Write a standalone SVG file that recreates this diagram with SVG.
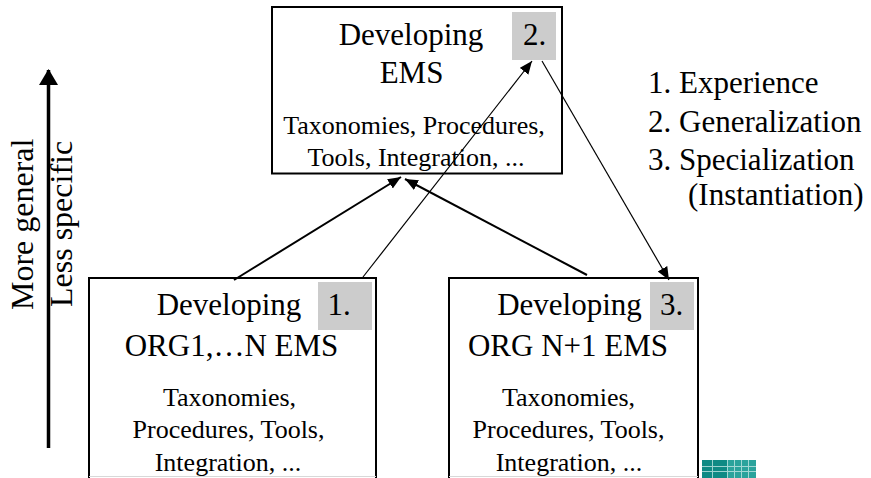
<svg xmlns="http://www.w3.org/2000/svg" width="871" height="478" viewBox="0 0 871 478">
  <style>
    text { font-family: "Liberation Serif", "Times New Roman", serif; fill: #000; }
    .head { font-size: 31px; text-anchor: middle; }
    .sub { font-size: 26px; text-anchor: middle; }
    .num { font-size: 31px; text-anchor: middle; }
    .legend { font-size: 31px; }
    .side { font-size: 32px; }
    .box { fill: #fff; stroke: #000; stroke-width: 2; }
    .tag { fill: #cccccc; stroke: none; }
    .thick { stroke: #000; stroke-width: 2; fill: none; }
    .thin { stroke: #000; stroke-width: 1.2; fill: none; }
  </style>
  <defs>
    <marker id="ah" markerUnits="userSpaceOnUse" markerWidth="14" markerHeight="12" refX="13" refY="5.5" orient="auto">
      <path d="M0,0 L13,5.5 L0,11 z" fill="#000"/>
    </marker>
    <marker id="ahBig" markerUnits="userSpaceOnUse" markerWidth="20" markerHeight="20" refX="15" refY="9.5" orient="auto">
      <path d="M0,0 L16,9.5 L0,19 z" fill="#000"/>
    </marker>
  </defs>
  <rect width="871" height="478" fill="#fff"/>

  <g id="axis">
    <line x1="48.5" y1="448" x2="48.5" y2="70" stroke="#000" stroke-width="3.5" marker-end="url(#ahBig)"/>
    <text class="side" transform="translate(33,310) rotate(-90)">More general</text>
    <text class="side" transform="translate(72,307) rotate(-90)">Less specific</text>
  </g>

  <g id="node-ems">
    <rect class="box" x="272" y="7" width="290" height="166.5"/>
    <rect class="tag" x="512" y="12" width="44" height="48"/>
    <text class="num" x="534.5" y="45">2.</text>
    <text class="head" x="411" y="45">Developing</text>
    <text class="head" x="411.5" y="83">EMS</text>
    <text class="sub" x="414" y="134">Taxonomies, Procedures,</text>
    <text class="sub" x="416" y="166">Tools, Integration, ...</text>
  </g>

  <g id="node-org1n">
    <rect class="box" x="89" y="278" width="287" height="215"/>
    <line x1="89" y1="476.5" x2="376" y2="476.5" stroke="#d8d8d8" stroke-width="1"/>
    <rect class="tag" x="318" y="282" width="54" height="48"/>
    <text class="num" x="339" y="315">1.</text>
    <text class="head" x="229" y="315">Developing</text>
    <text class="head" x="231.5" y="356">ORG1,…N EMS</text>
    <text class="sub" x="229.5" y="406">Taxonomies,</text>
    <text class="sub" x="228.5" y="438">Procedures, Tools,</text>
    <text class="sub" x="228" y="471">Integration, ...</text>
  </g>

  <g id="node-orgn1">
    <rect class="box" x="449" y="278" width="249" height="215"/>
    <line x1="449" y1="476.5" x2="698" y2="476.5" stroke="#d8d8d8" stroke-width="1"/>
    <rect class="tag" x="650" y="282" width="44" height="48"/>
    <text class="num" x="671.5" y="315">3.</text>
    <text class="head" x="569.5" y="315">Developing</text>
    <text class="head" x="568" y="356">ORG N+1 EMS</text>
    <text class="sub" x="568.5" y="406">Taxonomies,</text>
    <text class="sub" x="568.5" y="438">Procedures, Tools,</text>
    <text class="sub" x="569" y="471">Integration, ...</text>
  </g>

  <g id="connectors">
    <line class="thick" x1="234" y1="280" x2="401" y2="177" marker-end="url(#ah)"/>
    <line class="thick" x1="587" y1="275" x2="405" y2="179" marker-end="url(#ah)"/>
    <line class="thin" x1="363" y1="277" x2="532" y2="61" marker-end="url(#ah)"/>
    <line class="thin" x1="542" y1="61" x2="669" y2="280" marker-end="url(#ah)"/>
  </g>

  <g id="legend">
    <text class="legend" x="648" y="93">1. Experience</text>
    <text class="legend" x="648" y="132">2. Generalization</text>
    <text class="legend" x="648" y="170">3. Specialization</text>
    <text class="legend" x="688" y="205">(Instantiation)</text>
  </g>

  <g id="logo">
    <rect x="702" y="460" width="25" height="18" fill="#0e8a84"/>
    <rect x="727" y="460" width="29" height="18" fill="#2aa39c"/>
    <g stroke="#bfe6e2" stroke-width="1" opacity="0.8">
      <line x1="702" y1="466.5" x2="756" y2="466.5"/>
      <line x1="702" y1="471.5" x2="756" y2="471.5"/>
      <line x1="712.5" y1="460" x2="712.5" y2="478"/>
      <line x1="727.5" y1="460" x2="727.5" y2="478"/>
      <line x1="734.5" y1="460" x2="734.5" y2="478"/>
      <line x1="741.5" y1="460" x2="741.5" y2="478"/>
      <line x1="748.5" y1="460" x2="748.5" y2="478"/>
    </g>
  </g>
</svg>
